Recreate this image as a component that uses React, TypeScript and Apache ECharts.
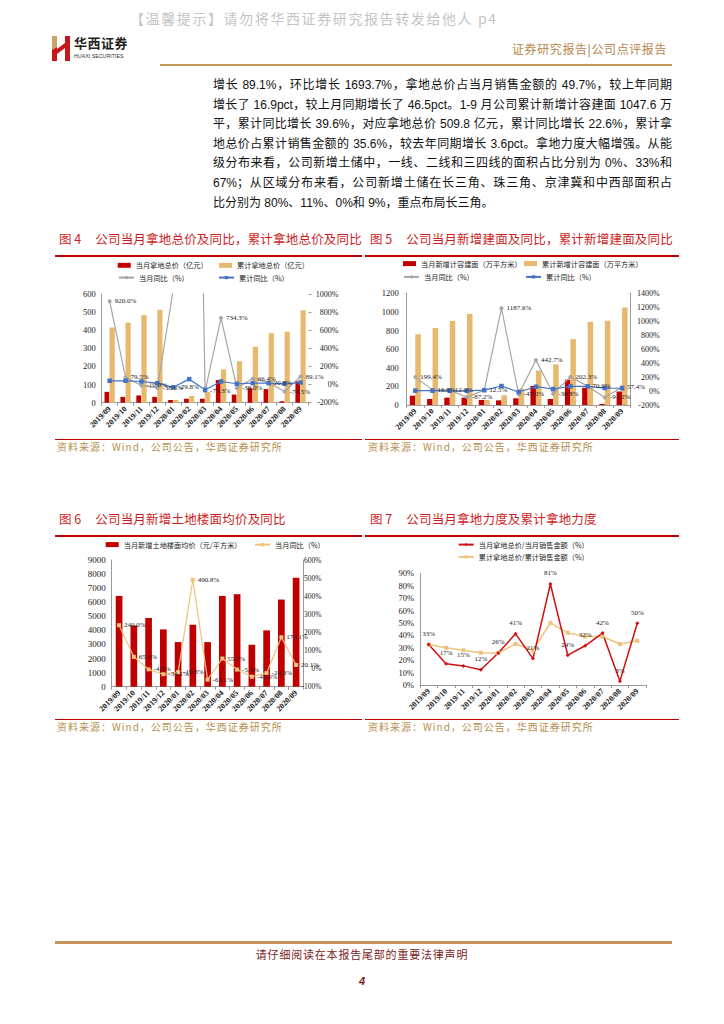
import React, { useEffect, useRef } from 'react';
import * as echarts from 'echarts';

const CATS = ['2019/09', '2019/10', '2019/11', '2019/12', '2020/01', '2020/02', '2020/03', '2020/04', '2020/05', '2020/06', '2020/07', '2020/08', '2020/09'];

// 图4
const F4_MONTH_PRICE = [60, 32, 40, 32, 15, 22, 22, 125, 45, 80, 75, 8, 117.8];
const F4_CUM_PRICE = [415, 442, 483, 512, 15, 37, 59, 184, 229, 309, 384, 392, 509.8];
const F4_MONTH_YOY = [920.0, 79.5, -10.0, -38.6, 1050, 10000, -73.3, 734.3, -38.0, 66.4, 20.8, -76.5, 89.1];
const F4_MONTH_YOY_LABELS = ['920.0%', '79.5%', '-10.0%', '-38.6%', '', '', '-73.3%', '734.3%', '-38.0%', '66.4%', '20.8%', '-76.5%', '89.1%'];
const F4_CUM_YOY = [42, 42, 34, 16, -29.8, 60, -57, 34, 9, 16, 16, 9, 22.6];
const F4_CUM_YOY_LABELS = ['', '', '', '', '-29.8%', '', '', '', '', '', '', '', ''];

// 图5
const F5_MONTH_AREA = [100, 65, 79, 79, 54, 50, 72, 204, 65, 272, 186, 12, 145];
const F5_CUM_AREA = [760, 828, 903, 978, 54, 104, 176, 370, 436, 708, 893, 905, 1047.6];
const F5_MONTH_YOY = [199.4, 16.8, 12.0, -87.2, 12.5, 1187.6, -47.0, 442.7, -38.8, 202.3, 70.0, -91.2, 57.4];
const F5_MONTH_YOY_LABELS = ['199.4%', '16.8%', '12.0%', '-87.2%', '12.5%', '1187.6%', '-47.0%', '442.7%', '-38.8%', '202.3%', '70.0%', '-91.2%', '57.4%'];
const F5_CUM_YOY = [5, 5, 3, 3, 12.5, 72, -14, 62, 29, 67, 67, 43, 39.6];

// 图6
const F6_PRICE = [6450, 4350, 4880, 4070, 3170, 4400, 3170, 6450, 6570, 2980, 4000, 6190, 7740];
const F6_YOY = [240.0, 65.0, -4.3, -31.1, -19.8, 490.8, -61.1, 55.7, -5.4, -45.0, -24.0, 173.1, 20.1];

// 图7
const F7_MONTH_RATIO = [32.6, 17.2, 15.4, 12.3, 25.8, 41.2, 21.3, 81.4, 24.0, 31.6, 41.8, 3.1, 49.7];
const F7_CUM_RATIO = [32.6, 30, 28, 26, 25.8, 33, 28, 50, 42, 39, 39, 33, 35.6];

const SERIF = "'Liberation Serif', 'Times New Roman', serif";
const CJK = "'Noto Sans CJK SC', sans-serif";
const RED = '#c00000';
const TAN = '#e7b96f';
const GREY = '#a6a6a6';
const BLUE = '#4472c4';
const AXIS = '#9a9a9a';

function xAxisCfg() {
  return {
    type: 'category',
    data: CATS,
    boundaryGap: true,
    axisLine: { show: true, lineStyle: { color: AXIS, width: 1 } },
    axisTick: { show: true, length: 3, lineStyle: { color: AXIS } },
    axisLabel: { rotate: 45, interval: 0, fontSize: 8, fontWeight: 'bold', fontFamily: SERIF, color: '#222', margin: 5 },
    splitLine: { show: false },
  };
}

function leftAxis(min: number, max: number, interval: number, fontSize: number, margin: number, pct = false) {
  return {
    type: 'value', min, max, interval, position: 'left',
    axisLine: { show: true, lineStyle: { color: AXIS } },
    axisTick: { show: false },
    axisLabel: { fontSize, fontFamily: SERIF, color: '#222', margin, formatter: (v: number) => (pct ? v + '%' : String(v)) },
    splitLine: { show: false },
  };
}

function rightAxis(min: number, max: number, interval: number, fontSize: number, margin: number, showLine: boolean, showTick: boolean) {
  return {
    type: 'value', min, max, interval, position: 'right',
    axisLine: { show: showLine, lineStyle: { color: AXIS } },
    axisTick: { show: showTick, length: 3, lineStyle: { color: AXIS } },
    axisLabel: { fontSize, fontFamily: SERIF, color: '#222', margin, align: 'right', formatter: (v: number) => v + '%' },
    splitLine: { show: false },
  };
}

const legendText = { fontSize: 7.2, fontFamily: CJK, color: '#222' };

function leg(name: string, left: number, top: number, isBar: boolean) {
  return {
    data: [name], left, top, padding: 0, selectedMode: false,
    itemWidth: isBar ? 13 : 15, itemHeight: isBar ? 5 : 4,
    icon: isBar ? 'rect' : undefined,
    textStyle: legendText,
  };
}

const dataLabel = (labels: string[] | null, position: string) => ({
  show: true,
  position,
  distance: 3,
  fontSize: 7,
  fontFamily: SERIF,
  color: '#222',
  formatter: (p: any) => (labels ? labels[p.dataIndex] : Math.round(p.value) + '%'),
});

function opt4() {
  return {
    animation: false,
    grid: { left: 46.7, top: 36, width: 206.8, height: 108.7, containLabel: false },
    legend: [
      leg('当月拿地总价（亿元）', 62.7, 3.7, true),
      leg('累计拿地总价（亿元）', 164, 3.7, true),
      leg('当月同比（%）', 63, 16, false),
      leg('累计同比（%）', 163, 16, false),
    ],
    xAxis: xAxisCfg(),
    yAxis: [leftAxis(0, 600, 100, 8.5, 6), rightAxis(-200, 1000, 200, 8, 30, false, true)],
    series: [
      { name: '当月拿地总价（亿元）', type: 'bar', data: F4_MONTH_PRICE, barWidth: 4.7, itemStyle: { color: RED } },
      { name: '累计拿地总价（亿元）', type: 'bar', data: F4_CUM_PRICE, barWidth: 5.2, barGap: '8%', itemStyle: { color: TAN } },
      {
        name: '当月同比（%）', type: 'line', yAxisIndex: 1, data: F4_MONTH_YOY, clip: true,
        symbol: 'circle', symbolSize: 4, lineStyle: { color: GREY, width: 1.2 }, itemStyle: { color: GREY },
        label: dataLabel(F4_MONTH_YOY_LABELS, 'right'),
      },
      {
        name: '累计同比（%）', type: 'line', yAxisIndex: 1, data: F4_CUM_YOY, clip: true,
        symbol: 'rect', symbolSize: 4.5, lineStyle: { color: BLUE, width: 1.2 }, itemStyle: { color: BLUE },
        label: dataLabel(F4_CUM_YOY_LABELS, 'right'),
      },
    ],
  };
}

function opt5() {
  return {
    animation: false,
    grid: { left: 41.7, top: 35.3, width: 224, height: 111.7, containLabel: false },
    legend: [
      leg('当月新增计容建面（万平方米）', 38, 2, true),
      leg('累计新增计容建面（万平方米）', 159, 2, true),
      leg('当月同比（%）', 38, 15.3, false),
      leg('累计同比（%）', 160, 15.3, false),
    ],
    xAxis: xAxisCfg(),
    yAxis: [leftAxis(0, 1200, 200, 8.5, 8), rightAxis(-200, 1400, 200, 8, 29, true, false)],
    series: [
      { name: '当月新增计容建面（万平方米）', type: 'bar', data: F5_MONTH_AREA, barWidth: 5.5, itemStyle: { color: RED } },
      { name: '累计新增计容建面（万平方米）', type: 'bar', data: F5_CUM_AREA, barWidth: 5.5, barGap: '0%', itemStyle: { color: TAN } },
      {
        name: '当月同比（%）', type: 'line', yAxisIndex: 1, data: F5_MONTH_YOY, clip: true,
        symbol: 'circle', symbolSize: 4, lineStyle: { color: GREY, width: 1.2 }, itemStyle: { color: GREY },
        label: dataLabel(F5_MONTH_YOY_LABELS, 'right'),
      },
      {
        name: '累计同比（%）', type: 'line', yAxisIndex: 1, data: F5_CUM_YOY, clip: true,
        symbol: 'rect', symbolSize: 4.5, lineStyle: { color: BLUE, width: 1.2 }, itemStyle: { color: BLUE },
      },
    ],
  };
}

function opt6() {
  return {
    animation: false,
    grid: { left: 56.7, top: 22, width: 191.8, height: 126.7, containLabel: false },
    legend: [
      leg('当月新增土地楼面均价（元/平方米）', 50.7, 3, true),
      leg('当月同比（%）', 199, 3, false),
    ],
    xAxis: xAxisCfg(),
    yAxis: [leftAxis(0, 9000, 1000, 9, 6), rightAxis(-100, 600, 100, 7.5, 18, true, false)],
    series: [
      { name: '当月新增土地楼面均价（元/平方米）', type: 'bar', data: F6_PRICE, barWidth: 6.7, itemStyle: { color: RED } },
      {
        name: '当月同比（%）', type: 'line', yAxisIndex: 1, data: F6_YOY, clip: true,
        symbol: 'rect', symbolSize: 4, lineStyle: { color: '#f0c27e', width: 1.2 }, itemStyle: { color: '#f0c27e' },
        label: { ...dataLabel(null, 'right'), formatter: (p: any) => p.value.toFixed(1) + '%' },
      },
    ],
  };
}

function opt7() {
  return {
    animation: false,
    grid: { left: 55, top: 35.3, width: 226, height: 111.7, containLabel: false },
    legend: [
      leg('当月拿地总价/当月销售金额（%）', 92.7, 3, false),
      leg('累计拿地总价/累计销售金额（%）', 92.7, 15.3, false),
    ],
    xAxis: xAxisCfg(),
    yAxis: [leftAxis(0, 90, 10, 8.5, 6, true)],
    series: [
      {
        name: '累计拿地总价/累计销售金额（%）', type: 'line', data: F7_CUM_RATIO,
        symbol: 'rect', symbolSize: 4, lineStyle: { color: '#f0c27e', width: 1.5 }, itemStyle: { color: '#f0c27e' },
      },
      {
        name: '当月拿地总价/当月销售金额（%）', type: 'line', data: F7_MONTH_RATIO,
        symbol: 'diamond', symbolSize: 4, lineStyle: { color: '#d01010', width: 1.5 }, itemStyle: { color: '#d01010' },
        label: { ...dataLabel(null, 'top'), distance: 5 },
      },
    ],
  };
}

function Chart({ option, left, top, width, height }: any) {
  const ref = useRef<HTMLDivElement>(null);
  useEffect(() => {
    const c = echarts.init(ref.current as HTMLDivElement, null, { renderer: 'svg' });
    c.setOption(option);
    return () => c.dispose();
  }, []);
  return <div ref={ref} style={{ position: 'absolute', left, top, width, height }} />;
}

const abs = (o: any) => ({ position: 'absolute' as const, ...o });

function FigTitle({ num, text, left, top }: any) {
  return (
    <div style={abs({ left, top, fontFamily: CJK, fontSize: 12.5, color: '#cc1d1d', whiteSpace: 'nowrap', lineHeight: '16px' })}>
      <span>图 {num}</span>
      <span style={{ marginLeft: 14, letterSpacing: 0.2 }}>{text}</span>
    </div>
  );
}

function RedLine({ left, top, width }: any) {
  return <div style={abs({ left, top, width, height: 1.5, background: '#c00000' })} />;
}

function Source({ left, top }: any) {
  return (
    <div style={abs({ left, top, fontFamily: CJK, fontSize: 10, color: '#b58f4e', letterSpacing: 1, whiteSpace: 'nowrap', lineHeight: '12px' })}>
      资料来源：Wind，公司公告，华西证券研究所
    </div>
  );
}

const BODY_LINES = [
  '增长 89.1%，环比增长 1693.7%，拿地总价占当月销售金额的 49.7%，较上年同期',
  '增长了 16.9pct，较上月同期增长了 46.5pct。1-9 月公司累计新增计容建面 1047.6 万',
  '平，累计同比增长 39.6%，对应拿地总价 509.8 亿元，累计同比增长 22.6%，累计拿',
  '地总价占累计销售金额的 35.6%，较去年同期增长 3.6pct。拿地力度大幅增强。从能',
  '级分布来看，公司新增土储中，一线、二线和三四线的面积占比分别为 0%、33%和',
  '67%；从区域分布来看，公司新增土储在长三角、珠三角、京津冀和中西部面积占',
  '比分别为 80%、11%、0%和 9%，重点布局长三角。',
];

export default function App() {
  return (
    <div style={abs({ left: 0, top: 0, width: 724, height: 1024, background: '#fff', overflow: 'hidden' })}>
      {/* watermark */}
      <div style={abs({ left: 130, top: 10, fontFamily: CJK, fontSize: 14, color: '#c4c4c4', letterSpacing: 1.6, whiteSpace: 'nowrap', lineHeight: '17px' })}>
        【温馨提示】请勿将华西证券研究报告转发给他人 p4
      </div>
      {/* logo */}
      <svg style={abs({ left: 50, top: 36 })} width={22} height={25} viewBox="0 0 22 25">
        <polygon points="2,0 7,0 7,11 2,14" fill="#c9a46a" />
        <polygon points="2,14 7,11 7,25 2,25" fill="#c8161d" />
        <polygon points="7,13 15,7 15,12 7,18" fill="#c8161d" />
        <polygon points="15,0 20,0 20,25 15,25" fill="#c8161d" />
      </svg>
      <div style={abs({ left: 74, top: 35, fontFamily: CJK, fontSize: 13, fontWeight: 'bold', color: '#222', letterSpacing: 0.5, lineHeight: '16px', whiteSpace: 'nowrap' })}>华西证券</div>
      <div style={abs({ left: 74, top: 53, fontFamily: "'Liberation Sans', Arial, sans-serif", fontSize: 5.3, color: '#333', lineHeight: '7px', whiteSpace: 'nowrap' })}>HUAXI SECURITIES</div>
      <div style={abs({ left: 512, top: 41, fontFamily: CJK, fontSize: 12, color: '#b8864b', letterSpacing: 0.6, lineHeight: '15px', whiteSpace: 'nowrap' })}>
        证券研究报告<span style={{ color: '#9a7040' }}>|</span>公司点评报告
      </div>
      <div style={abs({ left: 160, top: 64, width: 512, height: 2, background: '#c49a5e' })} />

      {/* body text */}
      <div style={abs({ left: 213, top: 76, width: 459, fontFamily: "'Liberation Sans', Arial, 'Noto Sans CJK SC', sans-serif", fontSize: 12, color: '#111', lineHeight: '19.6px' })}>
        {BODY_LINES.map((l, i) => (
          <div key={i} style={{ textAlign: i < BODY_LINES.length - 1 ? 'justify' : 'left', textAlignLast: i < BODY_LINES.length - 1 ? 'justify' : 'left', height: 19.6 } as any}>{l}</div>
        ))}
      </div>

      {/* Fig 4 */}
      <FigTitle num="4" text="公司当月拿地总价及同比，累计拿地总价及同比" left={59} top={231} />
      <RedLine left={55} top={255} width={307} />
      <Chart option={opt4()} left={55} top={258} width={312} height={180} />
      <RedLine left={55} top={438.5} width={307} />
      <Source left={57} top={441} />

      {/* Fig 5 */}
      <FigTitle num="5" text="公司当月新增建面及同比，累计新增建面及同比" left={370} top={231} />
      <RedLine left={365} top={255} width={314} />
      <Chart option={opt5()} left={365} top={258} width={320} height={180} />
      <RedLine left={365} top={438.5} width={314} />
      <Source left={368} top={441} />

      {/* Fig 6 */}
      <FigTitle num="6" text="公司当月新增土地楼面均价及同比" left={59} top={511} />
      <RedLine left={55} top={535} width={307} />
      <Chart option={opt6()} left={55} top={538} width={312} height={180} />
      <RedLine left={55} top={718.5} width={307} />
      <Source left={57} top={721} />

      {/* Fig 7 */}
      <FigTitle num="7" text="公司当月拿地力度及累计拿地力度" left={370} top={511} />
      <RedLine left={365} top={535} width={314} />
      <Chart option={opt7()} left={365} top={538} width={320} height={180} />
      <RedLine left={365} top={718.5} width={314} />
      <Source left={368} top={721} />

      {/* footer */}
      <div style={abs({ left: 55, top: 941, width: 617, height: 2.5, background: '#c8965a' })} />
      <div style={abs({ left: 0, top: 947, width: 724, textAlign: 'center', fontFamily: CJK, fontSize: 11, color: '#7a1c1c', letterSpacing: 0.8, lineHeight: '14px' })}>
        请仔细阅读在本报告尾部的重要法律声明
      </div>
      <div style={abs({ left: 0, top: 974, width: 724, textAlign: 'center', fontFamily: "'Liberation Sans', Arial, sans-serif", fontSize: 11, fontWeight: 'bold', fontStyle: 'italic', color: '#7a1c1c', lineHeight: '14px' })}>
        4
      </div>
    </div>
  );
}
